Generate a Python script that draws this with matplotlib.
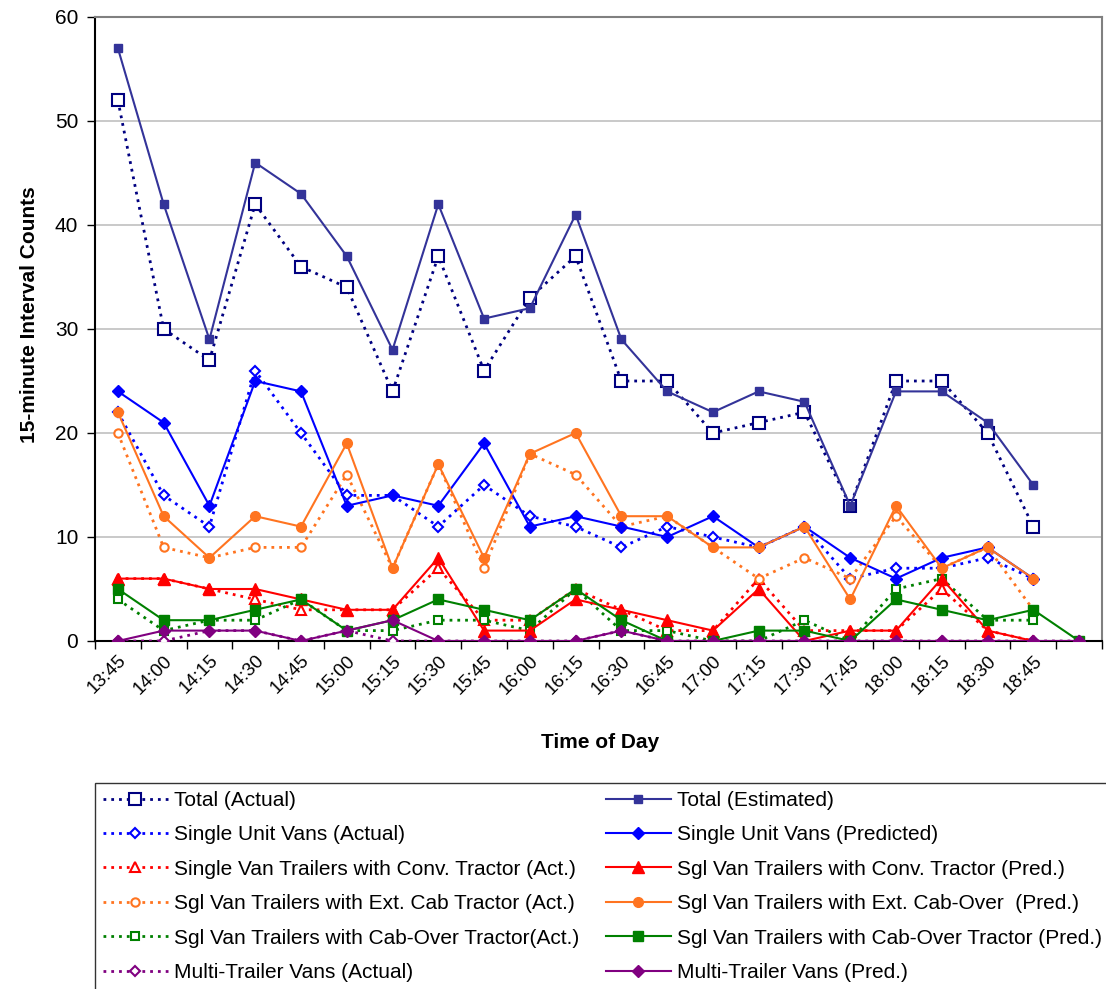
import matplotlib
matplotlib.use("Agg")
import matplotlib.pyplot as plt
from matplotlib.ticker import FixedLocator, NullFormatter

plt.rcParams['font.family'] = ['Liberation Sans', 'DejaVu Sans']

# Time-of-day categories (last slot carries no label)
times = ["13:45", "14:00", "14:15", "14:30", "14:45", "15:00", "15:15", "15:30",
         "15:45", "16:00", "16:15", "16:30", "16:45", "17:00", "17:15", "17:30",
         "17:45", "18:00", "18:15", "18:30", "18:45", ""]

total_actual = [52, 30, 27, 42, 36, 34, 24, 37, 26, 33, 37, 25, 25, 20, 21, 22, 13, 25, 25, 20, 11]
total_est = [57, 42, 29, 46, 43, 37, 28, 42, 31, 32, 41, 29, 24, 22, 24, 23, 13, 24, 24, 21, 15]
su_actual = [22, 14, 11, 26, 20, 14, 14, 11, 15, 12, 11, 9, 11, 10, 9, 11, 6, 7, 7, 8, 6]
su_pred = [24, 21, 13, 25, 24, 13, 14, 13, 19, 11, 12, 11, 10, 12, 9, 11, 8, 6, 8, 9, 6]
conv_actual = [6, 6, 5, 4, 3, 3, 3, 7, 2, 2, 5, 3, 1, 1, 6, 1, 1, 1, 5, 1, 0]
conv_pred = [6, 6, 5, 5, 4, 3, 3, 8, 1, 1, 4, 3, 2, 1, 5, 0, 1, 1, 6, 1, 0]
ext_actual = [20, 9, 8, 9, 9, 16, 7, 17, 7, 18, 16, 11, 12, 9, 6, 8, 6, 12, 7, 9, 3]
ext_pred = [22, 12, 8, 12, 11, 19, 7, 17, 8, 18, 20, 12, 12, 9, 9, 11, 4, 13, 7, 9, 6]
cabover_actual = [4, 1, 2, 2, 4, 1, 1, 2, 2, 1, 5, 1, 1, 0, 0, 2, 0, 5, 6, 2, 2]
cabover_pred = [5, 2, 2, 3, 4, 1, 2, 4, 3, 2, 5, 2, 0, 0, 1, 1, 0, 4, 3, 2, 3, 0]
multi_actual = [0, 0, 1, 1, 0, 1, 0, 0, 0, 0, 0, 1, 0, 0, 0, 0, 0, 0, 0, 0, 0, 0]
multi_pred = [0, 1, 1, 1, 0, 1, 2, 0, 0, 0, 0, 1, 0, 0, 0, 0, 0, 0, 0, 0, 0, 0]

NAVY = "#000080"
TOTAL = "#333399"
BLUE = "#0000FF"
RED = "#FF0000"
ORANGE = "#FF7420"
GREEN = "#008000"
PURPLE = "#800080"

fig = plt.figure(figsize=(11.06, 9.89), dpi=100)
ax = fig.add_axes([95 / 1106, 1 - 641 / 989, (1102 - 95) / 1106, (641 - 17) / 989])

dot = (0, (1.0, 1.8))
lw_d = 2.0
lw_s = 1.5


def xs(vals):
    return list(range(len(vals)))


actual_specs = [
    (total_actual, NAVY, 's', 8, "Total (Actual)", 'white'),
    (su_actual, BLUE, 'D', 5, "Single Unit Vans (Actual)", 'white'),
    (conv_actual, RED, '^', 7, "Single Van Trailers with Conv. Tractor (Act.)", 'white'),
    (ext_actual, ORANGE, 'o', 6, "Sgl Van Trailers with Ext. Cab Tractor (Act.)", 'white'),
    (cabover_actual, GREEN, 's', 6, "Sgl Van Trailers with Cab-Over Tractor(Act.)", 'white'),
    (multi_actual, PURPLE, 'D', 5, "Multi-Trailer Vans (Actual)", 'white'),
]
pred_specs = [
    (total_est, TOTAL, 's', 6, "Total (Estimated)"),
    (su_pred, BLUE, 'D', 6, "Single Unit Vans (Predicted)"),
    (conv_pred, RED, '^', 8, "Sgl Van Trailers with Conv. Tractor (Pred.)"),
    (ext_pred, ORANGE, 'o', 7, "Sgl Van Trailers with Ext. Cab-Over  (Pred.)"),
    (cabover_pred, GREEN, 's', 7, "Sgl Van Trailers with Cab-Over Tractor (Pred.)"),
    (multi_pred, PURPLE, 'D', 6, "Multi-Trailer Vans (Pred.)"),
]

act_handles = []
pred_handles = []
for vals, col, mk, ms, lab, fc in actual_specs:
    h, = ax.plot(xs(vals), vals, linestyle=dot, linewidth=lw_d, color=col,
                 marker=mk, markersize=ms, markerfacecolor=fc,
                 markeredgecolor=col, markeredgewidth=1.5, label=lab, zorder=3)
    act_handles.append(h)
for vals, col, mk, ms, lab in pred_specs:
    h, = ax.plot(xs(vals), vals, linestyle='-', linewidth=lw_s, color=col,
                 marker=mk, markersize=ms, markerfacecolor=col,
                 markeredgecolor=col, label=lab, zorder=4)
    pred_handles.append(h)

ax.set_xlim(-0.5, len(times) - 0.5)
ax.set_ylim(0, 60)

# y axis
ax.set_yticks(range(0, 61, 10))
ax.tick_params(axis='y', direction='out', length=6, width=1, labelsize=15, pad=6)
ax.yaxis.grid(True, color="#C0C0C0", linewidth=1.2)
ax.set_axisbelow(True)

# x axis: ticks on category boundaries, labels at category centres
ax.xaxis.set_major_locator(FixedLocator([i - 0.5 for i in range(len(times) + 1)]))
ax.xaxis.set_major_formatter(NullFormatter())
ax.xaxis.set_minor_locator(FixedLocator(list(range(len(times)))))
ax.set_xticklabels(times, minor=True)
ax.tick_params(axis='x', which='major', direction='out', length=6, width=1)
ax.tick_params(axis='x', which='minor', length=0, labelsize=13.5, pad=8)
for t in ax.get_xticklabels(minor=True):
    t.set_rotation(45)
    t.set_ha('right')
    t.set_va('top')
    t.set_rotation_mode('anchor')

for side in ('left', 'bottom'):
    ax.spines[side].set_color('#000000')
    ax.spines[side].set_linewidth(1.5)
for side in ('top', 'right'):
    ax.spines[side].set_color('#808080')
    ax.spines[side].set_linewidth(1.5)

fig.text(30 / 1106, 1 - 315 / 989, "15-minute Interval Counts", rotation=90,
         ha='center', va='center', fontsize=15, fontweight='bold')
fig.text(600 / 1106, 1 - 742 / 989, "Time of Day", ha='center', va='center',
         fontsize=15, fontweight='bold')

leg = fig.legend(act_handles + pred_handles,
                 [h.get_label() for h in act_handles + pred_handles],
                 ncol=2, loc='upper left',
                 bbox_to_anchor=(95 / 1106, 1 - 783 / 989),
                 fontsize=15, frameon=True, fancybox=False,
                 edgecolor='#000000', handlelength=3.1, handletextpad=0.3,
                 labelspacing=0.74, borderaxespad=0, borderpad=0.38,
                 columnspacing=1.3)
leg.get_frame().set_linewidth(1.0)

fig.savefig("out.png", dpi=100)
